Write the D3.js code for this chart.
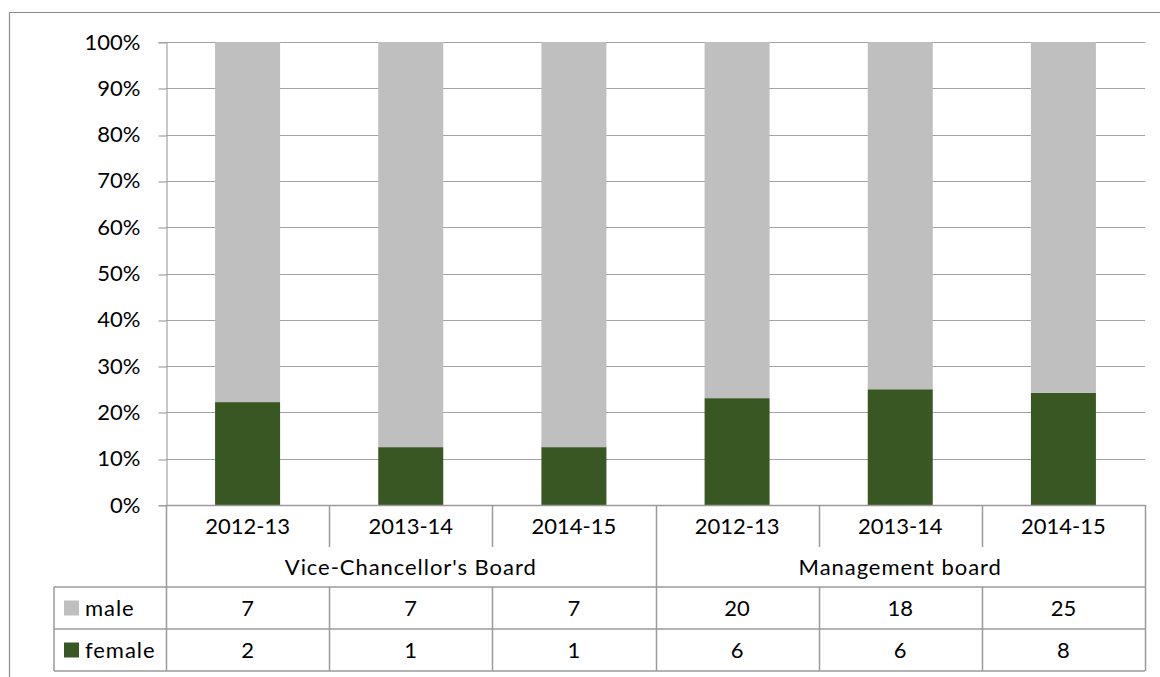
<!DOCTYPE html>
<html>
<head>
<meta charset="utf-8">
<script src="https://cdn.jsdelivr.net/npm/d3@7"></script>
<style>
  html, body { margin: 0; padding: 0; background: #fff; }
  svg { display: block; font-family: Lato, "Open Sans", sans-serif; }
</style>
</head>
<body>
<svg id="chart" width="1160" height="677"></svg>
<script>
// Board membership by gender
const years = ["2012-13", "2013-14", "2014-15", "2012-13", "2013-14", "2014-15"];
const boards = ["Vice-Chancellor's Board", "Management board"];
const boardOf = [0, 0, 0, 1, 1, 1];
const male = [7, 7, 7, 20, 18, 25];
const female = [2, 1, 1, 6, 6, 8];
const seriesNames = ["female", "male"];
const seriesColors = { male: "#bfbfbf", female: "#385723" };
const yTicks = [0, 0.1, 0.2, 0.3, 0.4, 0.5, 0.6, 0.7, 0.8, 0.9, 1];

const rows = years.map((y, i) => ({ idx: i, year: y, male: male[i], female: female[i] }));

const svg = d3.select("#chart");
const W = 1160, H = 677;
const plot = { left: 166, right: 1145, top: 42, bottom: 505 };
const gridColor = "#a3a3a3";
const lineColor = "#9a9a9a";
const fontSize = 22;
const wordSpacing = "0.95px";

// outer frame
svg.append("path")
  .attr("d", `M9.5,${H} V12.5 H${W}`)
  .attr("fill", "none").attr("stroke", "#8c8c8c").attr("stroke-width", 1.2);

const x = d3.scaleBand().domain(rows.map(d => d.idx)).range([plot.left, plot.right]).paddingInner(0).paddingOuter(0);
const y = d3.scaleLinear().domain([0, 1]).range([plot.bottom, plot.top]);

// gridlines
svg.append("g").selectAll("line").data(yTicks.filter(t => t > 0)).join("line")
  .attr("x1", plot.left).attr("x2", plot.right)
  .attr("y1", d => Math.round(y(d)) + 0.5).attr("y2", d => Math.round(y(d)) + 0.5)
  .attr("stroke", gridColor).attr("stroke-width", 1.2);

// stacked 100% columns
const stack = d3.stack().keys(seriesNames).offset(d3.stackOffsetExpand);
const layers = stack(rows);
const barW = 65;
svg.append("g").selectAll("g").data(layers).join("g")
  .attr("fill", d => seriesColors[d.key])
  .selectAll("rect").data(d => d).join("rect")
  .attr("x", d => x(d.data.idx) + x.bandwidth() / 2 - barW / 2)
  .attr("width", barW)
  .attr("y", d => y(d[1]))
  .attr("height", d => y(d[0]) - y(d[1]));

// y axis
const yAxis = svg.append("g")
  .attr("transform", `translate(${plot.left + 0.5},0)`)
  .call(d3.axisLeft(y).tickValues(yTicks).tickFormat(d3.format(".0%")).tickSize(8).tickPadding(18));
yAxis.select(".domain").attr("stroke", gridColor).attr("stroke-width", 1.2);
yAxis.selectAll(".tick line").attr("stroke", gridColor).attr("stroke-width", 1.2)
  .attr("transform", d => `translate(0,${Math.round(y(d)) + 0.5 - y(d)})`);
yAxis.selectAll(".tick text").attr("font-size", fontSize).attr("fill", "#000")
  .attr("font-family", "Lato, 'Open Sans', sans-serif");

// data table beneath the plot
const table = { yearBottom: 547, groupBottom: 587, maleBottom: 629, femaleBottom: 671, legendLeft: 54 };
const tg = svg.append("g").attr("stroke", lineColor).attr("stroke-width", 1.5).attr("fill", "none");
const edges = rows.map(d => x(d.idx)).concat([plot.right]);

// horizontal rules
tg.append("line").attr("x1", plot.left).attr("x2", plot.right).attr("y1", plot.bottom + 0.5).attr("y2", plot.bottom + 0.5);
tg.append("line").attr("x1", table.legendLeft).attr("x2", plot.right).attr("y1", table.groupBottom).attr("y2", table.groupBottom);
tg.append("line").attr("x1", table.legendLeft).attr("x2", plot.right).attr("y1", table.maleBottom).attr("y2", table.maleBottom);
tg.append("line").attr("x1", table.legendLeft).attr("x2", plot.right).attr("y1", table.femaleBottom).attr("y2", table.femaleBottom);
// legend cell left edge
tg.append("line").attr("x1", table.legendLeft).attr("x2", table.legendLeft).attr("y1", table.groupBottom).attr("y2", table.femaleBottom);

// vertical rules
edges.forEach((ex, i) => {
  const isOuter = i === 0 || i === edges.length - 1;
  const isGroupEdge = i > 0 && i < rows.length && boardOf[i] !== boardOf[i - 1];
  const xx = Math.round(ex) + 0.5;
  if (isOuter || isGroupEdge) {
    tg.append("line").attr("x1", xx).attr("x2", xx).attr("y1", plot.bottom).attr("y2", table.femaleBottom);
  } else {
    tg.append("line").attr("x1", xx).attr("x2", xx).attr("y1", plot.bottom).attr("y2", table.yearBottom);
    tg.append("line").attr("x1", xx).attr("x2", xx).attr("y1", table.groupBottom).attr("y2", table.femaleBottom);
  }
});

const txt = svg.append("g").attr("font-size", fontSize).attr("fill", "#000").attr("text-anchor", "middle");
// year labels
txt.selectAll("text.yr").data(rows).join("text").attr("class", "yr")
  .attr("x", d => x(d.idx) + x.bandwidth() / 2)
  .attr("y", (plot.bottom + table.yearBottom) / 2).attr("dy", "0.36em")
  .text(d => d.year);
// board labels
txt.selectAll("text.bd").data(boards).join("text").attr("class", "bd")
  .attr("x", (d, bi) => {
    const members = rows.filter(r => boardOf[r.idx] === bi);
    return (x(members[0].idx) + x(members[members.length - 1].idx) + x.bandwidth()) / 2;
  })
  .attr("y", (table.yearBottom + table.groupBottom) / 2).attr("dy", "0.36em")
  .attr("letter-spacing", wordSpacing)
  .text(d => d);

// value rows
const valueRows = [
  { key: "male", top: table.groupBottom, bottom: table.maleBottom, values: male },
  { key: "female", top: table.maleBottom, bottom: table.femaleBottom, values: female }
];
valueRows.forEach(r => {
  const cy = (r.top + r.bottom) / 2;
  txt.append("g").selectAll("text").data(r.values).join("text")
    .attr("x", (v, i) => x(i) + x.bandwidth() / 2)
    .attr("y", cy).attr("dy", "0.36em")
    .text(v => v);
  svg.append("rect")
    .attr("x", 64).attr("y", cy - 7.5).attr("width", 15).attr("height", 15)
    .attr("fill", seriesColors[r.key]);
  svg.append("text")
    .attr("x", 85).attr("y", cy).attr("dy", "0.36em")
    .attr("font-size", fontSize).attr("fill", "#000")
    .attr("letter-spacing", wordSpacing)
    .text(r.key);
});
</script>
</body>
</html>
